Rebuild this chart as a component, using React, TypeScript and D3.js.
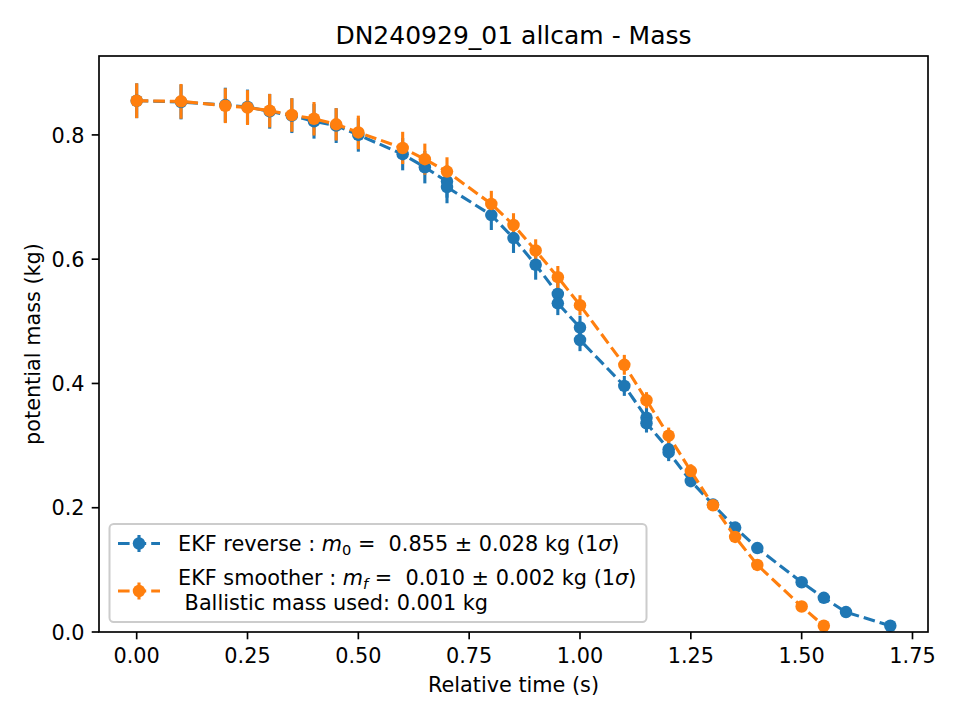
import React, { useRef, useEffect } from "react";
import * as d3 from "d3";

// EKF reverse pass (some epochs have two camera solutions)
const reverseTime = [0, 0.1, 0.2, 0.25, 0.3, 0.35, 0.4, 0.45, 0.5, 0.6, 0.65, 0.7, 0.7, 0.8, 0.85, 0.9, 0.95, 0.95, 1.0, 1.0, 1.1, 1.15, 1.15, 1.2, 1.2, 1.25, 1.3, 1.35, 1.4, 1.5, 1.55, 1.6, 1.7];
const reverseMass = [0.855, 0.853, 0.848, 0.845, 0.838, 0.831, 0.822, 0.815, 0.8, 0.769, 0.748, 0.725, 0.716, 0.671, 0.634, 0.591, 0.544, 0.529, 0.49, 0.47, 0.396, 0.345, 0.336, 0.294, 0.289, 0.243, 0.205, 0.168, 0.135, 0.08, 0.055, 0.032, 0.01];
const reverseErr = [0.028, 0.028, 0.028, 0.028, 0.028, 0.028, 0.028, 0.028, 0.027, 0.026, 0.026, 0.026, 0.026, 0.024, 0.024, 0.024, 0.02, 0.019, 0.019, 0.018, 0.016, 0.016, 0.015, 0.015, 0.014, 0.01, 0.008, 0.006, 0.005, 0.004, 0.003, 0.003, 0.002];

// EKF smoother
const smootherTime = [0, 0.1, 0.2, 0.25, 0.3, 0.35, 0.4, 0.45, 0.5, 0.6, 0.65, 0.7, 0.8, 0.85, 0.9, 0.95, 1.0, 1.1, 1.15, 1.2, 1.25, 1.3, 1.35, 1.4, 1.5, 1.55];
const smootherMass = [0.855, 0.854, 0.847, 0.844, 0.839, 0.832, 0.826, 0.817, 0.804, 0.779, 0.761, 0.741, 0.689, 0.655, 0.614, 0.571, 0.526, 0.43, 0.373, 0.316, 0.259, 0.204, 0.153, 0.108, 0.041, 0.01];
const smootherErr = [0.028, 0.028, 0.028, 0.028, 0.027, 0.027, 0.027, 0.026, 0.027, 0.026, 0.025, 0.023, 0.021, 0.019, 0.018, 0.018, 0.016, 0.016, 0.013, 0.013, 0.011, 0.009, 0.007, 0.006, 0.004, 0.002];

const xTicks = [0, 0.25, 0.5, 0.75, 1.0, 1.25, 1.5, 1.75];
const yTicks = [0, 0.2, 0.4, 0.6, 0.8];

const BLUE = "#1f77b4";
const ORANGE = "#ff7f0e";
const FONT = "DejaVu Sans, sans-serif";

interface Pt {
  t: number;
  m: number;
  e: number;
}

const zip = (t: number[], m: number[], e: number[]): Pt[] =>
  t.map((v, i) => ({ t: v, m: m[i], e: e[i] }));

const App: React.FC = () => {
  const svgRef = useRef<SVGSVGElement>(null);

  useEffect(() => {
    if (svgRef.current === null) return;
    const svg = d3.select(svgRef.current);
    svg.selectAll("*").remove();

    const left = 99, right = 928, top = 56, bottom = 632;
    const x = d3.scaleLinear().domain([-0.085, 1.785]).range([left, right]);
    const y = d3.scaleLinear().domain([0, 0.927]).range([bottom, top]);

    const series = [
      { data: zip(reverseTime, reverseMass, reverseErr), color: BLUE },
      { data: zip(smootherTime, smootherMass, smootherErr), color: ORANGE },
    ];

    svg.append("rect").attr("width", 960).attr("height", 720).attr("fill", "white");

    const plot = svg.append("g");

    // error bars sit under every data line
    series.forEach(s => {
      plot
        .append("g")
        .selectAll("line")
        .data(s.data)
        .enter()
        .append("line")
        .attr("x1", d => x(d.t))
        .attr("x2", d => x(d.t))
        .attr("y1", d => y(d.m - d.e))
        .attr("y2", d => y(d.m + d.e))
        .attr("stroke", s.color)
        .attr("stroke-width", 3.1);
    });

    const line = d3
      .line<Pt>()
      .x(d => x(d.t))
      .y(d => y(d.m));

    series.forEach(s => {
      plot
        .append("path")
        .datum(s.data)
        .attr("d", line)
        .attr("fill", "none")
        .attr("stroke", s.color)
        .attr("stroke-width", 3.1)
        .attr("stroke-dasharray", "11.6,5");
      plot
        .append("g")
        .selectAll("circle")
        .data(s.data)
        .enter()
        .append("circle")
        .attr("cx", d => x(d.t))
        .attr("cy", d => y(d.m))
        .attr("r", 6.25)
        .attr("fill", s.color);
    });

    // frame
    svg
      .append("rect")
      .attr("x", left)
      .attr("y", top)
      .attr("width", right - left)
      .attr("height", bottom - top)
      .attr("fill", "none")
      .attr("stroke", "black")
      .attr("stroke-width", 1.67);

    // x ticks
    const xg = svg.append("g");
    xg.selectAll("line")
      .data(xTicks)
      .enter()
      .append("line")
      .attr("x1", d => x(d))
      .attr("x2", d => x(d))
      .attr("y1", bottom)
      .attr("y2", bottom + 7.3)
      .attr("stroke", "black")
      .attr("stroke-width", 1.67);
    xg.selectAll("text")
      .data(xTicks)
      .enter()
      .append("text")
      .attr("x", d => x(d))
      .attr("y", 663)
      .attr("text-anchor", "middle")
      .attr("font-family", FONT)
      .attr("font-size", 20.8)
      .text(d => d3.format(".2f")(d));

    // y ticks
    const yg = svg.append("g");
    yg.selectAll("line")
      .data(yTicks)
      .enter()
      .append("line")
      .attr("x1", left)
      .attr("x2", left - 7.3)
      .attr("y1", d => y(d))
      .attr("y2", d => y(d))
      .attr("stroke", "black")
      .attr("stroke-width", 1.67);
    yg.selectAll("text")
      .data(yTicks)
      .enter()
      .append("text")
      .attr("x", 84.5)
      .attr("y", d => y(d) + 7.6)
      .attr("text-anchor", "end")
      .attr("font-family", FONT)
      .attr("font-size", 20.8)
      .text(d => d3.format(".1f")(d));

    // labels and title
    svg
      .append("text")
      .attr("x", (left + right) / 2)
      .attr("y", 692)
      .attr("text-anchor", "middle")
      .attr("font-family", FONT)
      .attr("font-size", 20.8)
      .text("Relative time (s)");
    svg
      .append("text")
      .attr("transform", `translate(40, ${(top + bottom) / 2}) rotate(-90)`)
      .attr("text-anchor", "middle")
      .attr("font-family", FONT)
      .attr("font-size", 20.8)
      .text("potential mass (kg)");
    svg
      .append("text")
      .attr("x", (left + right) / 2)
      .attr("y", 44)
      .attr("text-anchor", "middle")
      .attr("font-family", FONT)
      .attr("font-size", 25)
      .text("DN240929_01 allcam - Mass");

    // legend
    const lg = svg.append("g");
    lg.append("rect")
      .attr("x", 109.5)
      .attr("y", 524)
      .attr("width", 537)
      .attr("height", 98)
      .attr("rx", 4.2)
      .attr("fill", "white")
      .attr("fill-opacity", 0.8)
      .attr("stroke", "#cccccc")
      .attr("stroke-width", 2);

    const handle = (cy: number, color: string) => {
      lg.append("line")
        .attr("x1", 118)
        .attr("x2", 160)
        .attr("y1", cy)
        .attr("y2", cy)
        .attr("stroke", color)
        .attr("stroke-width", 3.1)
        .attr("stroke-dasharray", "11.6,5");
      lg.append("line")
        .attr("x1", 139)
        .attr("x2", 139)
        .attr("y1", cy - 8.5)
        .attr("y2", cy + 8.5)
        .attr("stroke", color)
        .attr("stroke-width", 3.1);
      lg.append("circle")
        .attr("cx", 139)
        .attr("cy", cy)
        .attr("r", 6.25)
        .attr("fill", color);
    };
    handle(543.5, BLUE);
    handle(591, ORANGE);

    // math-style label: italic m with a subscript, italic sigma
    const label = (yPos: number, pre: string, sub: string, subItalic: boolean, post: string) => {
      const t = lg
        .append("text")
        .attr("x", 178)
        .attr("y", yPos)
        .attr("font-family", FONT)
        .attr("font-size", 20.8)
        .style("white-space", "pre");
      t.append("tspan").text(pre);
      t.append("tspan").attr("font-style", "italic").text("m");
      t.append("tspan")
        .attr("font-size", 14.6)
        .attr("font-style", subItalic ? "italic" : "normal")
        .attr("dy", 4)
        .text(sub);
      t.append("tspan").attr("dy", -4).text(post);
      t.append("tspan").attr("font-style", "italic").text("σ");
      t.append("tspan").text(")");
    };
    label(550.5, "EKF reverse : ", "0", false, " =  0.855 ± 0.028 kg (1");
    label(585, "EKF smoother : ", "f", true, " =  0.010 ± 0.002 kg (1");
    lg.append("text")
      .attr("x", 178)
      .attr("y", 610)
      .attr("font-family", FONT)
      .attr("font-size", 20.8)
      .style("white-space", "pre")
      .text(" Ballistic mass used: 0.001 kg");
  }, []);

  return (
    <svg
      ref={svgRef}
      width={960}
      height={720}
      style={{ position: "absolute", left: 0, top: 0 }}
    />
  );
};

export default App;
